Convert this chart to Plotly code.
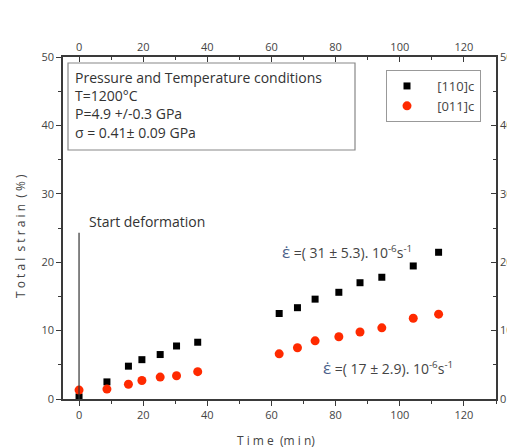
import plotly.graph_objects as go

# Data
time_110 = [0, 8.7, 15.4, 19.6, 25.3, 30.4, 37.0, 62.4, 68.1, 73.6, 81.0, 87.6, 94.4, 104.2, 112.1]
strain_110 = [0.3, 2.5, 4.8, 5.75, 6.5, 7.75, 8.3, 12.5, 13.35, 14.6, 15.6, 17.0, 17.8, 19.45, 21.45]
time_011 = [0, 8.7, 15.4, 19.6, 25.3, 30.4, 37.0, 62.4, 68.1, 73.6, 81.0, 87.6, 94.4, 104.2, 112.1]
strain_011 = [1.3, 1.45, 2.15, 2.7, 3.2, 3.4, 4.0, 6.6, 7.5, 8.5, 9.1, 9.8, 10.4, 11.8, 12.4]
series_names = ["[110]c", "[011]c"]
start_time = 0
start_top = 24.3
x_range = [-5, 130]
y_range = [0, 50]
x_ticks = [0, 20, 40, 60, 80, 100, 120]
y_ticks = [0, 10, 20, 30, 40, 50]

FONT = "Open Sans"
AX = "#3a3a3a"
TXT = "#444444"
OFF = 8  # page body margin
W, H = 515 - OFF, 448 - OFF
L, R, T, B = 55, 19, 49, 49
PW, PH = W - L - R, H - T - B


def px(xs):  # screen x -> paper
    return (xs - OFF - L) / PW


def py(ys):  # screen y -> paper
    return (H - B - (ys - OFF)) / PH


fig = go.Figure()
fig.add_trace(go.Scatter(x=time_110, y=strain_110, mode="markers", name="   " + series_names[0],
                         marker=dict(symbol="square", size=7, color="black")))
fig.add_trace(go.Scatter(x=time_011, y=strain_011, mode="markers", name="   " + series_names[1],
                         marker=dict(symbol="circle", size=9, color="#ff2a00")))
# invisible trace to anchor the secondary (top/right) axes
fig.add_trace(go.Scatter(x=[x_range[0]], y=[y_range[0]], xaxis="x2", yaxis="y2", mode="markers",
                         marker=dict(opacity=0), showlegend=False, hoverinfo="skip"))

common = dict(showgrid=False, zeroline=False, showline=True, linecolor=AX, linewidth=1.5,
              tickcolor=AX, tickwidth=1.2, automargin=False,
              tickfont=dict(family=FONT, size=11, color=TXT))

fig.update_layout(
    width=W, height=H,
    margin=dict(l=L, r=R, t=T, b=B, autoexpand=False),
    paper_bgcolor="white", plot_bgcolor="white",
    font=dict(family=FONT, color=TXT),
    xaxis=dict(range=x_range, tickvals=x_ticks, ticks="outside", ticklen=5,
               minor=dict(dtick=10, tick0=0, ticks="outside", ticklen=3, tickcolor=AX),
               **common),
    yaxis=dict(range=y_range, tickvals=y_ticks, ticks="outside", ticklen=5,
               minor=dict(dtick=5, tick0=0, ticks="outside", ticklen=3, tickcolor=AX),
               **common),
    xaxis2=dict(range=x_range, tickvals=x_ticks, ticks="inside", ticklen=5, overlaying="x", side="top",
                anchor="y2", minor=dict(dtick=10, tick0=0, ticks="inside", ticklen=3, tickcolor=AX),
                **common),
    yaxis2=dict(range=y_range, tickvals=y_ticks, ticks="inside", ticklen=5, overlaying="y", side="right",
                anchor="x2", minor=dict(dtick=5, tick0=0, ticks="inside", ticklen=3, tickcolor=AX),
                **common),
    legend=dict(x=px(386), y=py(70), xanchor="left", yanchor="top", bgcolor="white",
                bordercolor="#999999", borderwidth=1, font=dict(family=FONT, size=13, color=TXT),
                itemwidth=30, tracegroupgap=2),
    showlegend=True,
)

# axis titles
fig.add_annotation(xref="paper", yref="paper", x=px(276), y=py(440), text="T i m e  (m i n)",
                   showarrow=False, xanchor="center", yanchor="middle",
                   font=dict(family=FONT, size=12, color=TXT))
fig.add_annotation(xref="paper", yref="paper", x=px(20), y=py(236), text="T o t a l  s t r a i n  ( % )",
                   showarrow=False, xanchor="center", yanchor="middle", textangle=-90,
                   font=dict(family=FONT, size=12, color=TXT))

# start deformation line
fig.add_shape(type="line", xref="x", yref="y", x0=start_time, x1=start_time, y0=0, y1=start_top,
              line=dict(color="#333333", width=1.2))
fig.add_annotation(xref="paper", yref="paper", x=px(87), y=py(222), text="Start deformation",
                   showarrow=False, xanchor="left", yanchor="middle",
                   font=dict(family=FONT, size=14, color="#333333"))

# conditions box
fig.add_shape(type="rect", xref="paper", yref="paper", x0=px(68), x1=px(355),
              y0=py(150), y1=py(63), line=dict(color="#888888", width=1.2),
              fillcolor="white", layer="below")
fig.add_annotation(xref="paper", yref="paper", x=px(73), y=py(66),
                   text="Pressure and Temperature conditions<br>T=1200°C<br>P=4.9 +/-0.3 GPa<br>σ = 0.41± 0.09 GPa",
                   showarrow=False, xanchor="left", yanchor="top", align="left",
                   font=dict(family=FONT, size=14, color="#333333"))

# strain rate annotations
fig.add_annotation(xref="paper", yref="paper", x=px(280), y=py(251),
                   text="<span style='color:#4a5f8a;font-size:17px'>ε̇</span> =( 31 ± 5.3). 10<sup>-6</sup>s<sup>-1</sup>",
                   showarrow=False, xanchor="left", yanchor="middle",
                   font=dict(family=FONT, size=14, color="#444444"))
fig.add_annotation(xref="paper", yref="paper", x=px(321), y=py(367),
                   text="<span style='color:#4a5f8a;font-size:17px'>ε̇</span> =( 17 ± 2.9). 10<sup>-6</sup>s<sup>-1</sup>",
                   showarrow=False, xanchor="left", yanchor="middle",
                   font=dict(family=FONT, size=14, color="#444444"))

fig.write_html("out.html")
